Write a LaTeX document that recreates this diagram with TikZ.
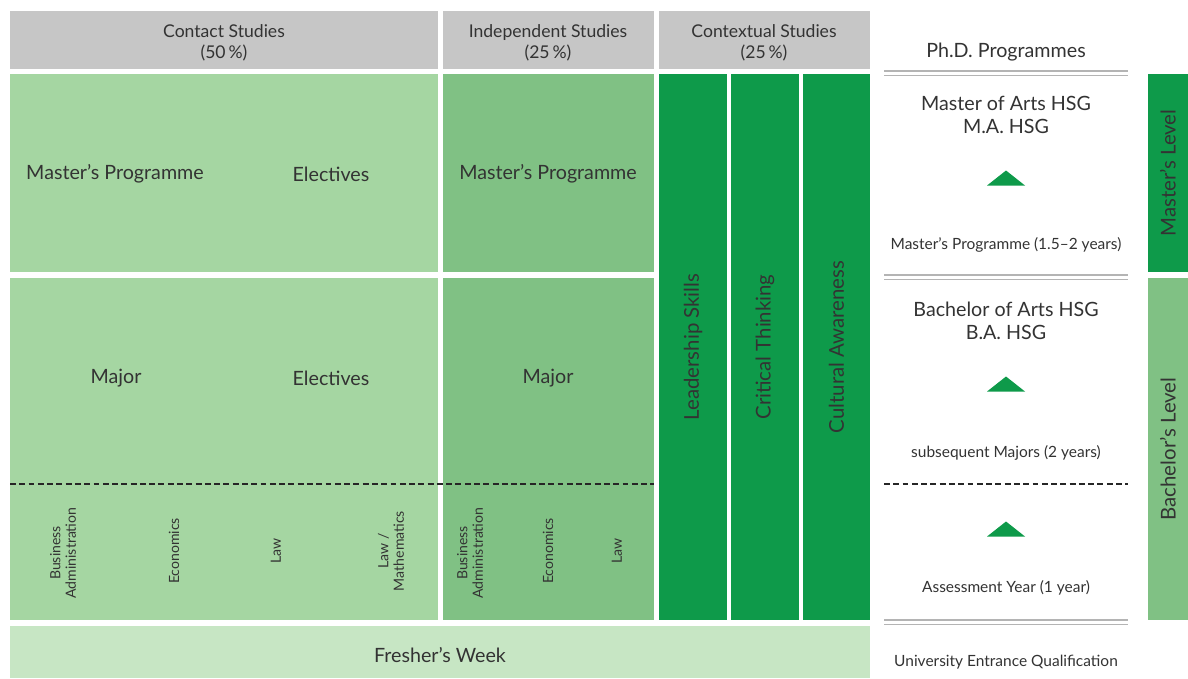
\documentclass[tikz,border=0pt]{standalone}
\usepackage{fontspec}
\setmainfont{Lato}
\usetikzlibrary{positioning}
\usetikzlibrary{fit}
\definecolor{hdrgray}{HTML}{C6C6C6}
\definecolor{ltgreen}{HTML}{A5D6A2}
\definecolor{mdgreen}{HTML}{80C184}
\definecolor{dkgreen}{HTML}{0E9A4A}
\definecolor{pale}{HTML}{C7E6C4}
\definecolor{txt}{HTML}{333333}
\definecolor{rulegray}{HTML}{B4B4B4}
\tikzstyle{pane} = [inner sep=0,outer sep=0]
\tikzstyle{hdr} = [pane,fill=hdrgray]
\tikzstyle{cs} = [pane,fill=ltgreen]
\tikzstyle{is} = [pane,fill=mdgreen]
\tikzstyle{xs} = [pane,fill=dkgreen]
\tikzstyle{htxt} = [text=txt,align=center,font=\fontsize{12.5}{15}\selectfont]
\tikzstyle{lbl} = [text=txt,align=center,font=\fontsize{14}{16}\selectfont]
\tikzstyle{vlbl} = [lbl,rotate=90,font=\fontsize{14.5}{16}\selectfont]
\tikzstyle{subj} = [text=txt,align=center,rotate=90,font=\fontsize{10}{11}\selectfont]
\tikzstyle{note} = [text=txt,font=\fontsize{11}{12}\selectfont]
\tikzstyle{cut} = [line width=1.6pt,dash pattern=on 4.2pt off 2.4pt,black!85]
\tikzstyle{rl} = [rulegray,line width=1.8pt]

\begin{document}
\begin{tikzpicture}[x=0.025cm,y=-0.025cm]
  \useasboundingbox (0,0) rectangle (1188,678);

  % headers
  \node [hdr,fit={(10,11) (438,69)}] (h1) {};
  \node [hdr,fit={(443,11) (654,69)}] (h2) {};
  \node [hdr,fit={(659,11) (870,69)}] (h3) {};
  \node [htxt] at (224,43) (h1t) {Contact Studies\\(50\,\%)};
  \node [htxt] at (548,43) (h2t) {Independent Studies\\(25\,\%)};
  \node [htxt] at (764,43) (h3t) {Contextual Studies\\(25\,\%)};

  % master's row
  \node [cs,fit={(10,74) (438,272)}] (c1) {};
  \node [is,fit={(443,74) (654,272)}] (i1) {};
  \node [lbl] (c1a) at (115,174) {Master's Programme};
  \node [lbl] (c1b) at (331,174) {Electives};
  \node [lbl] (i1a) at (548,174) {Master's Programme};

  % major row
  \node [cs,fit={(10,278) (438,620)}] (c2) {};
  \node [is,fit={(443,278) (654,620)}] (i2) {};
  \node [lbl] (c2a) at (116,378) {Major};
  \node [lbl] (c2b) at (331,378) {Electives};
  \node [lbl] (i2a) at (548,378) {Major};
  \coordinate (d1) at (10,484);
  \coordinate (d2) at (654,484);
  \draw [cut] (d1) -- (d2);

  \node [subj] (s1) at (63,553) {Business\\Administration};
  \node [subj] (s2) at (174,551) {Economics};
  \node [subj] (s3) at (276,551) {Law};
  \node [subj] (s4) at (391,551) {Law /\\Mathematics};
  \node [subj] (s5) at (470,553) {Business\\Administration};
  \node [subj] (s6) at (548,551) {Economics};
  \node [subj] (s7) at (617,551) {Law};

  % contextual studies
  \node [xs,fit={(659,74) (727,620)}] (x1) {};
  \node [xs,fit={(731,74) (799,620)}] (x2) {};
  \node [xs,fit={(803,74) (870,620)}] (x3) {};
  \node [vlbl] at (x1.center) (x1t) {Leadership Skills};
  \node [vlbl] at (x2.center) (x2t) {Critical Thinking};
  \node [vlbl] at (x3.center) (x3t) {Cultural Awareness};

  \node [pane,fill=pale,fit={(10,626) (870,678)}] (fw) {};
  \node [lbl] at (440,655) (fwt) {Fresher's Week};

  % degrees
  \node [lbl] (p0) at (1006,52) {Ph.D. Programmes};
  \node [lbl] (p1) at (1006,115) {Master of Arts HSG\\M.A. HSG};
  \node [note] (p2) at (1006,245) {Master's Programme (1.5--2 years)};
  \node [lbl] (p3) at (1006,321) {Bachelor of Arts HSG\\B.A. HSG};
  \node [note] (p4) at (1006,453) {subsequent Majors (2 years)};
  \node [note] (p5) at (1006,588) {Assessment Year (1 year)};
  \node [note] (p6) at (1006,662) {University Entrance Qualification};
  \foreach \ry in {71,275,620} {
    \draw [rl] (884,\ry) -- (1128,\ry);
    \draw [rl,line width=1.1pt] (884,\ry+4.5) -- (1128,\ry+4.5);
  }
  \coordinate (d3) at (884,484);
  \coordinate (d4) at (1128,484);
  \draw [cut] (d3) -- (d4);
  \foreach \ty in {178,384,529}
    \fill [dkgreen] (987,\ty+7.5) -- (1006,\ty-7.5) -- (1025,\ty+7.5) -- cycle;

  % levels
  \node [xs,fit={(1148,74) (1188,272)}] (m) {};
  \node [is,fit={(1148,278) (1188,620)}] (b) {};
  \node [vlbl] at (m.center) (mt) {Master's Level};
  \node [vlbl] at (b.center) (bt) {Bachelor's Level};
\end{tikzpicture}
\end{document}
